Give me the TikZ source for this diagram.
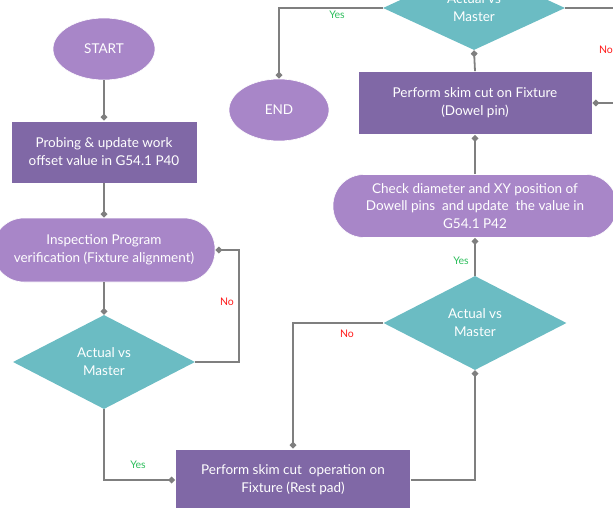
\documentclass[tikz,border=0pt]{standalone}
\usepackage{fontspec}
\setmainfont{Lato}
\usetikzlibrary{shapes.geometric,arrows.meta}
\definecolor{lpurple}{HTML}{A886C8}
\definecolor{dpurple}{HTML}{8068A6}
\definecolor{teal1}{HTML}{6BBCC3}
\definecolor{conng}{HTML}{7F7F7F}
\definecolor{yesg}{HTML}{2DBE5C}
\definecolor{nor}{HTML}{FF1A1A}
\tikzset{
  x=1pt, y=-1pt,
  every node/.style={font=\fontsize{13.5}{18}\selectfont, text=white, align=center, inner sep=0pt},
  oval/.style={ellipse, fill=lpurple, draw=white, line width=0.6pt},
  pill/.style={rectangle, rounded corners=31pt, fill=lpurple, draw=white, line width=0.6pt},
  procbox/.style={rectangle, fill=dpurple, draw=white, line width=0.6pt},
  decision/.style={diamond, fill=teal1, draw=none, aspect=1.9},
  conn/.style={draw=conng, line width=1.8pt, -{Diamond[length=7pt,width=7pt]}},
  yeslbl/.style={font=\fontsize{10.5}{11}\selectfont, text=yesg},
  nolbl/.style={font=\fontsize{10.5}{11}\selectfont, text=nor},
}
\begin{document}
\begin{tikzpicture}
\useasboundingbox (0,0) rectangle (613,508);
\clip (0,0) rectangle (613,508);
\node[oval, minimum width=102pt, minimum height=62pt] (start) at (104,49) {START};
\node[procbox, minimum width=186pt, minimum height=62pt] (probe) at (104,152) {Probing \& update work\\offset value in G54.1 P40};
\node[pill, minimum width=222pt, minimum height=64pt] (insp) at (104,250) {Inspection Program\\verification (Fixture alignment)};
\node[decision, minimum width=182pt, minimum height=94pt] (d1) at (104,362) {Actual vs\\Master};
\node[procbox, minimum width=235pt, minimum height=62pt] (rest) at (293,480) {Perform skim cut\ \ operation on\\Fixture (Rest pad)};
\node[decision, minimum width=183pt, minimum height=94pt] (d2) at (475,323) {Actual vs\\Master};
\node[pill, minimum width=284pt, minimum height=63pt, font=\fontsize{13.5}{17.5}\selectfont] (check) at (475,206) {Check diameter and XY position of\\Dowell pins\ \ and update\ \ the value in\\G54.1 P42};
\node[procbox, minimum width=234pt, minimum height=63pt] (dowel) at (475,103) {Perform skim cut on Fixture\\(Dowel pin)};
\node[decision, minimum width=182pt, minimum height=84pt] (d3) at (474,8) {Actual vs\\Master};
\node[oval, minimum width=100pt, minimum height=62pt] (end) at (279,110) {END};

\draw[conn] (start.south) -- (probe.north);
\draw[conn] (probe.south) -- (insp.north);
\draw[conn] (insp.south) -- (d1.north);
\draw[conn] (d1.east) -- ++(44,0) |- (insp.east);
\draw[conn] (d1.south) |- (rest.west);
\draw[conn] (rest.east) -| (d2.south);
\draw[conn] (d2.west) -| (rest.north);
\draw[conn] (d2.north) -- (check.south);
\draw[conn] (check.north) -- (dowel.south);
\draw[conn] (dowel.north) -- (d3.south);
\draw[conn] (d3.west) -| (end.north);
\draw[conn] (d3.east) -- ++(70,0) |- (dowel.east);

\node[nolbl] (no1) at (227,302) {No};
\node[yeslbl] (yes1) at (138,465) {Yes};
\node[nolbl] (no2) at (347,334) {No};
\node[yeslbl] (yes2) at (461,261) {Yes};
\node[yeslbl] (yes3) at (337,15) {Yes};
\node[nolbl] (no3) at (606,50) {No};
\end{tikzpicture}
\end{document}
